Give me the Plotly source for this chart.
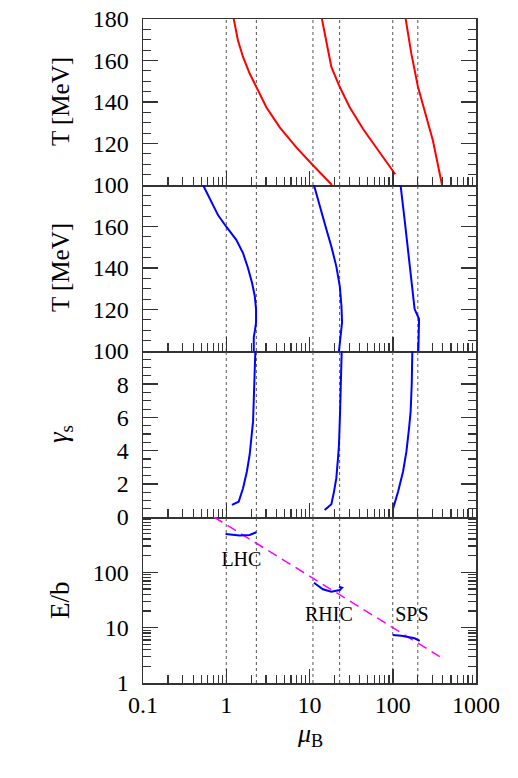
import plotly.graph_objects as go
from plotly.subplots import make_subplots

# mu_B boundaries (dotted guides) for LHC, RHIC, SPS
bounds_mu = [1.0, 2.3, 11.0, 23.0, 100.0, 200.0]

# panel 1: red T(mu_B)
red_lhc_mu = [1.23, 1.38, 1.59, 1.91, 2.30, 3.03, 4.39, 6.95, 11.0, 18.6]
red_lhc_T = [180, 169.8, 161.7, 153.7, 147.2, 137.5, 127.8, 118.1, 109.5, 100]
red_rhic_mu = [14.1, 16.0, 18.3, 23.1, 30.4, 44.0, 63.5, 83.7, 107]
red_rhic_T = [180, 168.2, 156.9, 147.2, 137.5, 127.0, 118.1, 111.6, 105.2]
red_sps_mu = [143, 167, 201, 253, 304, 391]
red_sps_T = [180, 163.4, 147.2, 132.6, 121.3, 100]

# panel 2: blue T(mu_B)
blue_lhc_mu = [0.526, 0.796, 1.0, 1.32, 1.59, 1.82, 2.04, 2.20, 2.28, 2.28, 2.21, 2.14, 2.14]
blue_lhc_T = [180, 165.5, 159.9, 153.6, 147.2, 140.1, 132.9, 126.5, 120.2, 113.8, 109.8, 106.6, 100]
blue_rhic_mu = [11.3, 13.3, 16.0, 18.3, 21.0, 23.1, 24.2, 24.6, 23.7, 22.6]
blue_rhic_T = [180, 169.5, 158.4, 150.4, 140.8, 131.3, 121.7, 113.8, 105.8, 100]
blue_sps_mu = [100.7, 124, 139, 160, 179, 183, 207, 207, 203]
blue_sps_T = [180, 180, 163.1, 142.5, 124.9, 120.2, 115.4, 107.4, 100]

# panel 3: gamma_s
g_lhc_mu = [1.17, 1.41, 1.59, 1.77, 1.91, 2.02, 2.10, 2.15, 2.20, 2.24]
g_lhc = [0.73, 0.92, 1.73, 2.74, 3.75, 4.75, 5.76, 7.37, 8.78, 10.1]
g_rhic_mu = [15.2, 18.3, 19.7, 21.0, 22.0, 22.6, 23.3, 23.7, 24.4]
g_rhic = [0.42, 0.77, 1.53, 2.34, 3.55, 4.35, 6.36, 7.37, 10.1]
g_sps_mu = [101, 116, 133, 146, 157, 164, 169, 172]
g_sps = [0.52, 1.53, 2.74, 3.95, 5.36, 6.36, 7.98, 10.1]

# panel 4: E/b
eb_lhc_mu = [0.98, 1.2, 1.45, 1.91, 2.30]
eb_lhc = [494, 470, 461, 475, 531]
eb_rhic_mu = [11.3, 14.5, 18.3, 23.1, 24.6, 22.6]
eb_rhic = [65, 49.5, 44.8, 48, 52.9, 55]
eb_sps_mu = [100, 127, 183, 211]
eb_sps = [7.38, 7.17, 6.43, 5.75]
fit_mu = [0.71, 366]
fit_eb = [1000, 3.0]

label_text = ["LHC", "RHIC", "SPS"]
label_mu = [1.52, 17.1, 170]
label_eb = [163, 16.3, 16.3]

FONT = "Liberation Serif"
AXC = "#333333"

fig = make_subplots(rows=4, cols=1, shared_xaxes=True, vertical_spacing=0)


def line(x, y, color, row, width=2, dash=None):
    fig.add_trace(
        go.Scatter(x=x, y=y, mode="lines", line=dict(color=color, width=width, dash=dash),
                   showlegend=False, hoverinfo="skip"),
        row=row, col=1,
    )


# dotted guides in each panel
yspan = {1: (100, 180), 2: (100, 180), 3: (0, 10), 4: (1, 1000)}
for r in range(1, 5):
    gx, gy = [], []
    for b in bounds_mu:
        gx += [b, b, None]
        gy += [yspan[r][0], yspan[r][1], None]
    line(gx, gy, "#555555", r, width=1, dash="dot")

for x, y in [(red_lhc_mu, red_lhc_T), (red_rhic_mu, red_rhic_T), (red_sps_mu, red_sps_T)]:
    line(x, y, "#ff0000", 1)
for x, y in [(blue_lhc_mu, blue_lhc_T), (blue_rhic_mu, blue_rhic_T), (blue_sps_mu, blue_sps_T)]:
    line(x, y, "#0000ff", 2)
for x, y in [(g_lhc_mu, g_lhc), (g_rhic_mu, g_rhic), (g_sps_mu, g_sps)]:
    line(x, y, "#0000ff", 3)
line(fit_mu, fit_eb, "#ff00ff", 4, width=1.5, dash="10px,6px")
for x, y in [(eb_lhc_mu, eb_lhc), (eb_rhic_mu, eb_rhic), (eb_sps_mu, eb_sps)]:
    line(x, y, "#0000ff", 4)

fig.add_trace(
    go.Scatter(x=label_mu, y=label_eb, mode="text", text=label_text,
               textfont=dict(family=FONT, size=20, color="black"),
               showlegend=False, hoverinfo="skip"),
    row=4, col=1,
)

tick_minor = dict(ticks="inside", ticklen=8, tickcolor=AXC, tickwidth=1.2)

fig.update_xaxes(
    type="log", range=[-1, 3], showline=True, linecolor=AXC, linewidth=1.5,
    ticks="inside", ticklen=14, tickcolor=AXC, tickwidth=1.5,
    tickmode="linear", tick0=0, dtick=1,
    minor=dict(dtick="D1", **tick_minor),
    showgrid=False, zeroline=False, automargin=False, showspikes=False,
    tickfont=dict(family=FONT, size=24, color="black"),
)
fig.update_xaxes(mirror=True, row=1, col=1)

common_y = dict(showline=True, mirror="ticks", linecolor=AXC, linewidth=1.5,
                ticks="inside", ticklen=15, tickcolor=AXC, tickwidth=1.5,
                showgrid=False, zeroline=False, automargin=False, showspikes=False,
                ticklabelstandoff=8, ticklabeloverflow="allow",
                tickfont=dict(family=FONT, size=24, color="black"))

fig.update_yaxes(range=[100, 180], tickmode="linear", tick0=100, dtick=20,
                 minor=dict(dtick=5, **tick_minor), row=1, col=1, **common_y)
fig.update_yaxes(range=[100, 180], tickmode="linear", tick0=100, dtick=20,
                 labelalias={"180": " "},
                 minor=dict(dtick=5, **tick_minor), row=2, col=1, **common_y)
fig.update_yaxes(range=[0, 10], tickmode="linear", tick0=0, dtick=2,
                 labelalias={"10": " "},
                 minor=dict(dtick=0.5, **tick_minor), row=3, col=1, **common_y)
fig.update_yaxes(type="log", range=[0, 3], tickmode="linear", tick0=0, dtick=1,
                 labelalias={"1000": " "},
                 minor=dict(dtick="D1", **tick_minor), row=4, col=1, **common_y)

# axis titles as annotations so they line up
titles = ["T [MeV]", "T [MeV]", "<i>γ</i><sub>s</sub>", "E/b"]
title_sizes = [25, 25, 27, 27]
for i, t in enumerate(titles):
    dom = fig.layout["yaxis" if i == 0 else f"yaxis{i + 1}"].domain
    fig.add_annotation(text=t, xref="paper", yref="paper", x=-0.249, y=(dom[0] + dom[1]) / 2,
                       textangle=-90, showarrow=False, xanchor="center", yanchor="middle",
                       font=dict(family=FONT, size=title_sizes[i], color="black"))
fig.add_annotation(text="<i>μ</i><sub>B</sub>", xref="paper", yref="paper", x=0.5, y=-0.078,
                   showarrow=False, xanchor="center", yanchor="middle",
                   font=dict(family=FONT, size=26, color="black"))

fig.update_layout(
    width=518, height=778,
    margin=dict(l=143, r=42, t=19, b=95),
    plot_bgcolor="white", paper_bgcolor="white",
    showlegend=False, hovermode=False, dragmode=False,
)

# drop the default page margin so the figure sits at the window corner
fig.write_html("out.html", config={"displayModeBar": False, "staticPlot": True},
               post_script="document.body.style.margin = '0';")
